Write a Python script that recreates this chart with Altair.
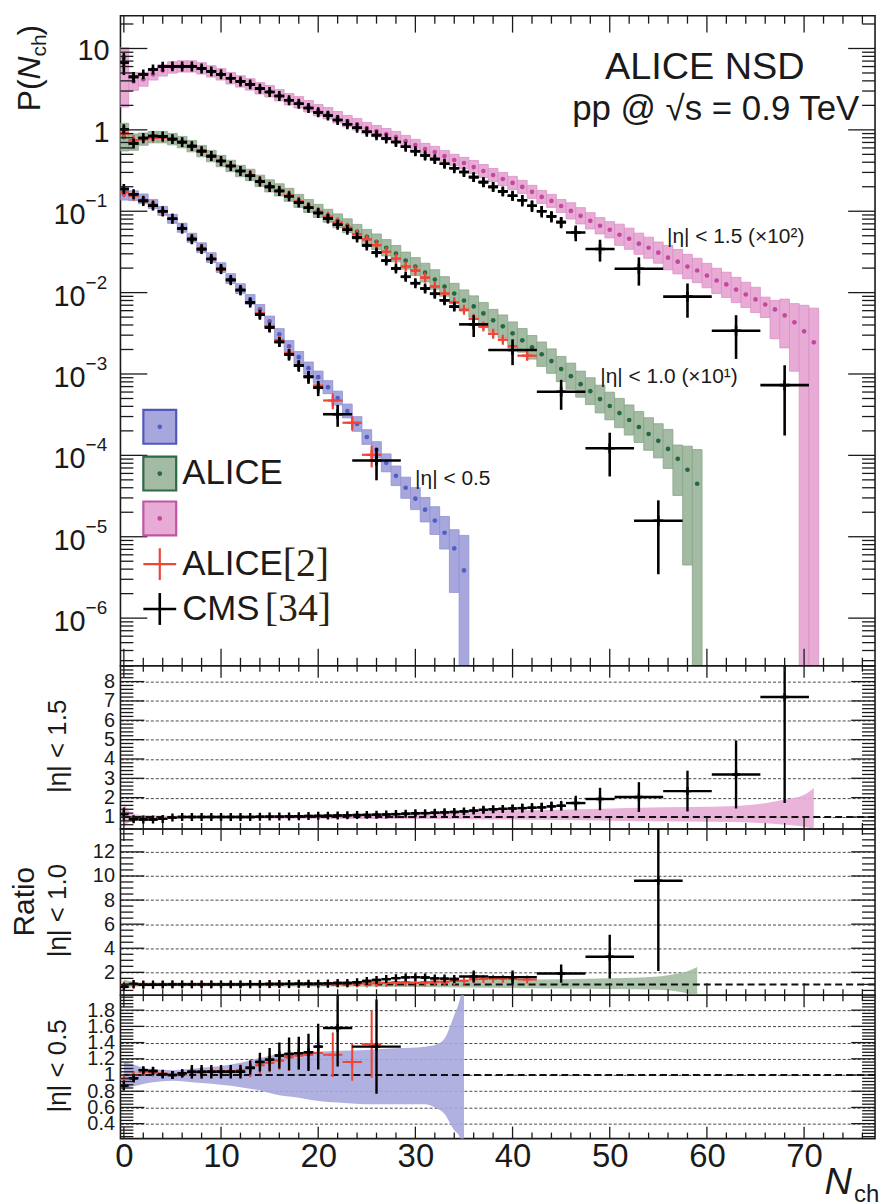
import numpy as np
import pandas as pd
import altair as alt

FONT = "Liberation Sans"
SERIF = "Liberation Serif"
INK = "#1a1a1a"

# ---------------------------------------------------------------------------
# ALICE NSD, pp at sqrt(s) = 0.9 TeV : P(N_ch) for N_ch = 0, 1, 2, ...
# (|eta| < 1.0 is multiplied by 10, |eta| < 1.5 by 100)
alice05 = [0.163, 0.155, 0.142, 0.123, 0.101, 0.0807, 0.0627, 0.0472, 0.0356, 0.0269,
           0.0203, 0.0149, 0.0112, 0.00824, 0.00621, 0.00443, 0.00307, 0.00219, 0.00161, 0.00118,
           9.14e-4, 6.89e-4, 5.06e-4, 3.51e-4, 2.43e-4, 1.68e-4, 1.17e-4, 8.09e-5, 5.61e-5, 4.00e-5,
           2.94e-5, 2.15e-5, 1.58e-5, 1.12e-5, 7.18e-6, 3.86e-6]
alice10 = [0.814, 0.707, 0.769, 0.814, 0.814, 0.769, 0.707, 0.631, 0.548, 0.476,
           0.414, 0.360, 0.312, 0.279, 0.236, 0.205, 0.183, 0.159, 0.134, 0.116,
           0.101, 0.0879, 0.0763, 0.0663, 0.0560, 0.0486, 0.0422, 0.0356, 0.0301, 0.0247,
           0.0209, 0.0176, 0.0145, 0.0119, 0.00975, 0.00800, 0.00676, 0.00555, 0.00456, 0.00385,
           0.00316, 0.00259, 0.00213, 0.00175, 0.00144, 0.00115, 9.40e-4, 7.50e-4, 6.15e-4, 4.92e-4,
           4.04e-4, 3.31e-4, 2.72e-4, 2.23e-4, 1.83e-4, 1.51e-4, 1.20e-4, 9.06e-5, 6.65e-5, 4.48e-5]
alice15 = [7.76, 3.94, 4.18, 4.81, 5.38, 5.85, 6.02, 6.02, 5.69, 5.23,
           4.81, 4.30, 3.94, 3.62, 3.24, 2.98, 2.66, 2.38, 2.18, 1.95,
           1.74, 1.60, 1.43, 1.28, 1.17, 1.05, 0.964, 0.885, 0.814, 0.727,
           0.650, 0.581, 0.533, 0.476, 0.426, 0.391, 0.349, 0.312, 0.279, 0.249,
           0.223, 0.199, 0.173, 0.150, 0.134, 0.116, 0.101, 0.0879, 0.0763, 0.0663,
           0.0592, 0.0514, 0.0459, 0.0399, 0.0356, 0.0310, 0.0269, 0.0240, 0.0209, 0.0187,
           0.0162, 0.0141, 0.0126, 0.0109, 0.00948, 0.00824, 0.00715, 0.00621, 0.00525, 0.00431,
           0.00334, 0.00245]

# total uncertainty boxes, in decades above / below the central value
alice05_up = [0.075, 0.06, 0.06, 0.055, 0.055, 0.055, 0.055, 0.055, 0.06, 0.06,
              0.06, 0.06, 0.06, 0.06, 0.06, 0.065, 0.07, 0.07, 0.07, 0.075,
              0.075, 0.08, 0.085, 0.085, 0.09, 0.09, 0.10, 0.11, 0.12, 0.13,
              0.135, 0.15, 0.17, 0.20, 0.23, 0.43]
alice05_dn = [0.075, 0.06, 0.06, 0.055, 0.055, 0.055, 0.055, 0.055, 0.06, 0.06,
              0.06, 0.06, 0.06, 0.06, 0.06, 0.065, 0.07, 0.07, 0.07, 0.075,
              0.075, 0.08, 0.085, 0.085, 0.09, 0.09, 0.10, 0.11, 0.12, 0.13,
              0.135, 0.15, 0.17, 0.20, 0.54, 9.0]
alice10_up = [0.17, 0.10, 0.075, 0.07, 0.07, 0.07, 0.07, 0.07, 0.07, 0.07,
              0.07, 0.07, 0.07, 0.07, 0.07, 0.075, 0.075, 0.08, 0.08, 0.08,
              0.08, 0.08, 0.085, 0.085, 0.09, 0.09, 0.095, 0.10, 0.10, 0.105,
              0.11, 0.115, 0.12, 0.12, 0.125, 0.13, 0.13, 0.135, 0.135, 0.14,
              0.14, 0.145, 0.145, 0.15, 0.15, 0.155, 0.16, 0.16, 0.165, 0.17,
              0.17, 0.18, 0.185, 0.19, 0.20, 0.21, 0.24, 0.17, 0.29, 0.42]
alice10_dn = [0.17, 0.10, 0.075, 0.07, 0.07, 0.07, 0.07, 0.07, 0.07, 0.07,
              0.07, 0.07, 0.07, 0.07, 0.07, 0.075, 0.075, 0.08, 0.08, 0.08,
              0.08, 0.08, 0.085, 0.085, 0.09, 0.09, 0.095, 0.10, 0.10, 0.105,
              0.11, 0.115, 0.12, 0.12, 0.125, 0.13, 0.13, 0.135, 0.135, 0.14,
              0.14, 0.145, 0.145, 0.15, 0.15, 0.155, 0.16, 0.16, 0.165, 0.17,
              0.17, 0.18, 0.185, 0.19, 0.20, 0.21, 0.24, 0.45, 1.17, 9.0]
alice15_up = [0.12, 0.11, 0.085, 0.07, 0.07, 0.07, 0.07, 0.07, 0.07, 0.07,
              0.07, 0.07, 0.07, 0.07, 0.07, 0.07, 0.07, 0.07, 0.07, 0.07,
              0.07, 0.07, 0.07, 0.07, 0.07, 0.07, 0.07, 0.07, 0.07, 0.07,
              0.07, 0.07, 0.07, 0.07, 0.07, 0.07, 0.08, 0.08, 0.08, 0.08,
              0.08, 0.08, 0.08, 0.08, 0.08, 0.08, 0.10, 0.10, 0.10, 0.10,
              0.10, 0.13, 0.13, 0.13, 0.13, 0.13, 0.15, 0.15, 0.15, 0.15,
              0.15, 0.15, 0.15, 0.15, 0.15, 0.15, 0.09, 0.11, 0.20, 0.23,
              0.32, 0.42]
alice15_dn = [0.61, 0.11, 0.085, 0.07, 0.07, 0.07, 0.07, 0.07, 0.07, 0.07,
              0.07, 0.07, 0.07, 0.07, 0.07, 0.07, 0.07, 0.07, 0.07, 0.07,
              0.07, 0.07, 0.07, 0.07, 0.07, 0.07, 0.07, 0.07, 0.07, 0.07,
              0.07, 0.07, 0.07, 0.07, 0.07, 0.07, 0.08, 0.08, 0.08, 0.08,
              0.08, 0.08, 0.08, 0.08, 0.08, 0.08, 0.10, 0.10, 0.10, 0.10,
              0.10, 0.13, 0.13, 0.13, 0.13, 0.13, 0.15, 0.15, 0.15, 0.15,
              0.15, 0.16, 0.16, 0.16, 0.16, 0.16, 0.16, 0.36, 0.40, 0.60,
              9.0, 9.0]

# relative uncertainty of ALICE NSD drawn in the ratio panels
band15_n = [0, 1, 2, 5, 10, 20, 30, 35, 45, 53, 63, 68, 70, 71]
band15_lo = [0.50, 0.85, 0.90, 0.93, 0.93, 0.91, 0.89, 0.88, 0.84, 0.78, 0.74, 0.60, 0.50, 0.38]
band15_hi = [1.70, 1.15, 1.10, 1.07, 1.07, 1.10, 1.20, 1.30, 1.38, 1.48, 1.57, 1.90, 2.15, 2.50]
band10_n = [0, 1, 2, 5, 10, 20, 30, 40, 50, 55, 57, 58, 59]
band10_lo = [0.60, 0.80, 0.85, 0.85, 0.85, 0.82, 0.78, 0.70, 0.62, 0.55, 0.40, 0.25, 0.10]
band10_hi = [1.40, 1.20, 1.15, 1.15, 1.15, 1.20, 1.28, 1.38, 1.50, 1.65, 1.90, 2.10, 2.45]
band05_n = [0, 1, 2, 3, 5, 8, 10, 12, 14, 16, 18, 20, 22, 25, 28, 31, 32, 33, 34, 34.5, 35]
band05_lo = [0.84, 0.86, 0.89, 0.91, 0.93, 0.90, 0.88, 0.85, 0.81, 0.75, 0.72, 0.68, 0.66, 0.64,
             0.64, 0.64, 0.60, 0.52, 0.32, 0.25, 0.0]
band05_hi = [1.16, 1.13, 1.09, 1.07, 1.06, 1.09, 1.11, 1.15, 1.21, 1.26, 1.28, 1.29, 1.30, 1.31,
             1.33, 1.35, 1.37, 1.45, 1.74, 1.90, 2.20]

# CMS [34] and ALICE [2]: bin centre, bin half width, ratio ALICE NSD / data, relative error
cms15_n = list(range(46)) + [46.5, 49, 53, 58, 63, 68]
cms15_hw = [0.5] * 46 + [1.0, 1.5, 2.5, 2.5, 2.5, 2.5]
cms15_r = [1.15, 0.88, 0.87, 0.87, 0.90, 0.97, 1.00, 1.00, 1.00, 1.00,
           1.00, 1.00, 1.00, 1.00, 1.01, 1.02, 1.02, 1.03, 1.04, 1.05,
           1.06, 1.07, 1.08, 1.09, 1.10, 1.11, 1.12, 1.13, 1.15, 1.17,
           1.19, 1.20, 1.22, 1.24, 1.26, 1.29, 1.33, 1.37, 1.40, 1.42,
           1.44, 1.46, 1.48, 1.50, 1.55, 1.58,
           1.72, 1.93, 2.03, 2.34, 3.20, 7.20]
cms15_e = [0.30, 0.15, 0.06, 0.06, 0.06, 0.06, 0.06, 0.06, 0.06, 0.06,
           0.07, 0.07, 0.07, 0.07, 0.07, 0.07, 0.07, 0.07, 0.07, 0.07,
           0.09, 0.09, 0.09, 0.09, 0.09, 0.09, 0.09, 0.09, 0.09, 0.09,
           0.11, 0.11, 0.11, 0.11, 0.11, 0.11, 0.13, 0.13, 0.13, 0.13,
           0.13, 0.16, 0.16, 0.16, 0.16, 0.16,
           0.22, 0.30, 0.38, 0.45, 0.55, 0.76]

cms10_n = list(range(35)) + [36, 40, 45, 50, 55]
cms10_hw = [0.5] * 35 + [1.5, 2.5, 2.5, 2.5, 2.5]
cms10_r = [0.80, 1.04, 0.97, 0.97, 0.98, 1.00, 1.00, 1.00, 1.00, 1.00,
           1.00, 1.00, 1.00, 1.02, 1.02, 1.03, 1.03, 1.04, 1.05, 1.05,
           1.06, 1.08, 1.12, 1.12, 1.18, 1.28, 1.36, 1.44, 1.52, 1.58,
           1.60, 1.57, 1.50, 1.48, 1.45,
           1.66, 1.60, 1.90, 3.30, 9.60]
cms10_e = [0.10, 0.05, 0.05, 0.05, 0.05, 0.05, 0.05, 0.05, 0.05, 0.05,
           0.05, 0.06, 0.06, 0.06, 0.06, 0.06, 0.06, 0.06, 0.06, 0.06,
           0.06, 0.08, 0.08, 0.08, 0.08, 0.08, 0.08, 0.08, 0.08, 0.08,
           0.08, 0.10, 0.10, 0.10, 0.10,
           0.30, 0.35, 0.40, 0.55, 0.78]

ali10_n = list(range(41)) + [41.5]
ali10_hw = [0.5] * 41 + [1.0]
ali10_r = [0.90, 0.95, 1.00, 1.02, 1.01, 1.00, 1.00, 1.00, 1.00, 1.00,
           1.00, 1.00, 1.00, 1.00, 1.01, 1.01, 1.02, 1.02, 1.02, 1.03,
           1.03, 1.03, 1.05, 1.06, 1.07, 1.08, 1.10, 1.12, 1.15, 1.18,
           1.12, 1.15, 1.22, 1.22, 1.28, 1.30, 1.42, 1.45, 1.46, 1.46,
           1.45, 1.40]
ali10_e = [0.05, 0.04, 0.04, 0.04, 0.04, 0.04, 0.04, 0.04, 0.04, 0.04,
           0.04, 0.04, 0.04, 0.04, 0.04, 0.04, 0.04, 0.04, 0.04, 0.04,
           0.04, 0.06, 0.06, 0.06, 0.06, 0.06, 0.06, 0.06, 0.06, 0.06,
           0.06, 0.09, 0.09, 0.09, 0.09, 0.09, 0.09, 0.09, 0.09, 0.09,
           0.09, 0.12]

cms05_n = list(range(21)) + [22, 26]
cms05_hw = [0.5] * 21 + [1.5, 2.5]
cms05_r = [0.87, 0.96, 1.06, 1.05, 1.01, 1.00, 1.02, 1.04, 1.04, 1.04,
           1.04, 1.04, 1.04, 1.09, 1.16, 1.19, 1.24, 1.26, 1.27, 1.28,
           1.35, 1.58, 1.35]
cms05_e = [0.07, 0.05, 0.04, 0.05, 0.05, 0.05, 0.05, 0.08, 0.08, 0.08,
           0.08, 0.08, 0.08, 0.08, 0.10, 0.12, 0.13, 0.16, 0.16, 0.18,
           0.21, 0.30, 0.43]

ali05_n = list(range(21)) + [21.5, 23.5, 25.5]
ali05_hw = [0.5] * 21 + [1.0, 1.0, 1.0]
ali05_r = [0.95, 1.00, 1.04, 1.03, 1.02, 1.00, 1.02, 1.03, 1.03, 1.04,
           1.05, 1.05, 1.06, 1.08, 1.12, 1.15, 1.18, 1.22, 1.24, 1.25,
           1.27, 1.25, 1.16, 1.38]
ali05_e = [0.06, 0.04, 0.04, 0.04, 0.04, 0.04, 0.04, 0.07, 0.07, 0.07,
           0.07, 0.07, 0.07, 0.10, 0.10, 0.10, 0.10, 0.14, 0.14, 0.14,
           0.14, 0.22, 0.20, 0.30]

# ---------------------------------------------------------------------------
# colours
BLUE_BAND, BLUE_EDGE, BLUE_DOT, BLUE_BOX = "#a7a7de", "#9090d2", "#4f5fc2", "#5058b8"
GREEN_BAND, GREEN_EDGE, GREEN_DOT, GREEN_BOX = "#a2bba2", "#88a588", "#23693f", "#2c6a45"
PINK_BAND, PINK_EDGE, PINK_DOT, PINK_BOX = "#e8abd5", "#da90c6", "#c5489f", "#c055a5"
RED = "#ef4436"

# panel geometry
W = 758
H_MAIN, H_R15, H_R10, H_R05 = 653, 164, 167, 144
xs = alt.Scale(domain=[-0.35, 77.3], nice=False, zero=False)
ys_main = alt.Scale(type="log", domain=[2.6e-7, 25.3], nice=False)
ys_r15 = alt.Scale(domain=[0.38, 8.82], nice=False, zero=False)
ys_r10 = alt.Scale(domain=[0.1, 13.9], nice=False, zero=False)
ys_r05 = alt.Scale(domain=[0.216, 1.984], nice=False, zero=False)

X_MAJOR = [0, 10, 20, 30, 40, 50, 60, 70]
X_MINOR = [t for t in range(0, 78, 2) if t % 10 != 0]
PLUS = "M-1,0L1,0M0,-1L0,1"


def alice_frame(p, up, dn):
    p = np.asarray(p, float)
    n = np.arange(len(p))
    return pd.DataFrame({"N": n, "x1": n - 0.5, "x2": n + 0.5, "v": p,
                         "lo": p * 10 ** (-np.asarray(dn, float)),
                         "hi": p * 10 ** np.asarray(up, float)})


def measurement(alice_p, n, hw, r, e):
    n = np.asarray(n, float)
    hw = np.asarray(hw, float)
    r = np.asarray(r, float)
    e = np.asarray(e, float)
    ref = 10 ** np.interp(n, np.arange(len(alice_p)), np.log10(alice_p))
    p = ref / r
    base = {"N": n, "x1": n - hw, "x2": n + hw}
    main = pd.DataFrame({**base, "v": p, "lo": p * (1 - e), "hi": p * (1 + e)})
    ratio = pd.DataFrame({**base, "v": r, "lo": r * (1 - e), "hi": r * (1 + e)})
    return main, ratio


def crosses(df, ys, xaxis, yaxis, color, width, size):
    base = alt.Chart(df)
    xm = alt.X("N:Q", scale=xs, axis=xaxis)
    return [
        base.mark_rule(color=color, strokeWidth=width, clip=True).encode(
            x=alt.X("x1:Q", scale=xs, axis=xaxis), x2="x2:Q",
            y=alt.Y("v:Q", scale=ys, axis=yaxis)),
        base.mark_rule(color=color, strokeWidth=width, clip=True).encode(
            x=xm, y=alt.Y("lo:Q", scale=ys, axis=yaxis), y2="hi:Q"),
        base.mark_point(shape=PLUS, size=size, filled=False, stroke=color,
                        strokeWidth=width, opacity=1, clip=True).encode(
            x=xm, y=alt.Y("v:Q", scale=ys, axis=yaxis)),
    ]


def frame_ticks(h, ys, xaxis, yaxis, y_major, y_minor, xl, yl):
    out = []
    for vals, L in ((X_MAJOR, xl[0]), (X_MINOR, xl[1])):
        d = alt.Chart(pd.DataFrame({"t": vals}))
        xe = alt.X("t:Q", scale=xs, axis=xaxis)
        out.append(d.mark_rule(color=INK, strokeWidth=1.3).encode(
            x=xe, y=alt.value(0), y2=alt.value(L)))
        out.append(d.mark_rule(color=INK, strokeWidth=1.3).encode(
            x=xe, y=alt.value(h - L), y2=alt.value(h)))
    for vals, L in ((y_major, yl[0]), (y_minor, yl[1])):
        d = alt.Chart(pd.DataFrame({"t": vals}))
        ye = alt.Y("t:Q", scale=ys, axis=yaxis)
        out.append(d.mark_rule(color=INK, strokeWidth=1.3).encode(
            y=ye, x=alt.value(0), x2=alt.value(L)))
        out.append(d.mark_rule(color=INK, strokeWidth=1.3).encode(
            y=ye, x=alt.value(W - L), x2=alt.value(W)))
    return out


def text(s, x, y, size, align="left", baseline="middle", angle=0, font=FONT,
         color=INK, style="normal"):
    return alt.Chart(pd.DataFrame({"a": [0]})).mark_text(
        text=s, align=align, baseline=baseline, angle=angle, font=font,
        fontSize=size, color=color, fontStyle=style).encode(
        x=alt.value(x), y=alt.value(y))


# ---------------------------------------------------------------------------
a05 = alice_frame(alice05, alice05_up, alice05_dn)
a10 = alice_frame(alice10, alice10_up, alice10_dn)
a15 = alice_frame(alice15, alice15_up, alice15_dn)

cms05_main, cms05_ratio = measurement(alice05, cms05_n, cms05_hw, cms05_r, cms05_e)
cms10_main, cms10_ratio = measurement(alice10, cms10_n, cms10_hw, cms10_r, cms10_e)
cms15_main, cms15_ratio = measurement(alice15, cms15_n, cms15_hw, cms15_r, cms15_e)
ali05_main, ali05_ratio = measurement(alice05, ali05_n, ali05_hw, ali05_r, ali05_e)
ali10_main, ali10_ratio = measurement(alice10, ali10_n, ali10_hw, ali10_r, ali10_e)

# ---------------- main panel: P(N_ch)
layers = []
for df, band, edge in ((a05, BLUE_BAND, BLUE_EDGE), (a10, GREEN_BAND, GREEN_EDGE),
                       (a15, PINK_BAND, PINK_EDGE)):
    layers.append(alt.Chart(df).mark_rect(fill=band, stroke=edge, strokeWidth=0.8,
                                          clip=True).encode(
        x=alt.X("x1:Q", scale=xs, axis=None), x2="x2:Q",
        y=alt.Y("lo:Q", scale=ys_main, axis=None), y2="hi:Q"))
for df, dot in ((a05, BLUE_DOT), (a10, GREEN_DOT), (a15, PINK_DOT)):
    layers.append(alt.Chart(df).mark_circle(size=22, color=dot, opacity=1, clip=True).encode(
        x=alt.X("N:Q", scale=xs, axis=None), y=alt.Y("v:Q", scale=ys_main, axis=None)))
for df in (ali05_main, ali10_main):
    layers += crosses(df, ys_main, None, None, RED, 2.2, 100)
for df in (cms05_main, cms10_main, cms15_main):
    layers += crosses(df, ys_main, None, None, "#000000", 2.6, 100)

main_major = [10.0 ** k for k in range(-6, 2)]
main_minor = [m * 10.0 ** k for k in range(-7, 2) for m in range(2, 10)
              if 2.6e-7 <= m * 10.0 ** k <= 25.3]
layers += frame_ticks(H_MAIN, ys_main, None, None, main_major, main_minor, (17, 8), (27, 13))

# y labels 10, 1, 10^-1 ... 10^-6
lab_top = pd.DataFrame({"v": [10.0, 1.0], "t": ["10", "1"]})
lab_pow = pd.DataFrame({"v": [1e-1, 1e-2, 1e-3, 1e-4, 1e-5, 1e-6],
                        "e": ["\u22121", "\u22122", "\u22123", "\u22124", "\u22125", "\u22126"]})
layers.append(alt.Chart(lab_top).mark_text(align="right", baseline="middle", font=FONT,
                                           fontSize=29, color=INK, dy=3).encode(
    y=alt.Y("v:Q", scale=ys_main, axis=None), x=alt.value(-11), text="t:N"))
layers.append(alt.Chart(lab_pow).mark_text(align="right", baseline="middle", font=FONT,
                                           fontSize=29, color=INK, dy=4, text="10").encode(
    y=alt.Y("v:Q", scale=ys_main, axis=None), x=alt.value(-35)))
layers.append(alt.Chart(lab_pow).mark_text(align="left", baseline="middle", font=FONT,
                                           fontSize=19, color=INK, dy=-10).encode(
    y=alt.Y("v:Q", scale=ys_main, axis=None), x=alt.value(-35), text="e:N"))

# axis title P(N_ch)
layers += [
    text("P(", -81, 96, 32, angle=270, baseline="alphabetic"),
    text("N", -81, 64, 32, angle=270, baseline="alphabetic", style="italic"),
    text("ch", -75, 41, 21, angle=270, baseline="alphabetic"),
    text(")", -81, 20, 32, angle=270, baseline="alphabetic"),
]

# headline and series labels
layers += [
    text("ALICE NSD", 587, 53, 38, align="center"),
    text("pp @ \u221As = 0.9 TeV", 598, 94, 35, align="center"),
    text("|\u03b7| < 1.5 (\u00d710\u00b2)", 549, 222, 21),
    text("|\u03b7| < 1.0 (\u00d710\u00b9)", 482, 363, 21),
    text("|\u03b7| < 0.5", 296, 465, 21),
]

# legend
one = pd.DataFrame({"a": [0]})
for y1, fill, edge, dot in ((396, BLUE_BAND, BLUE_BOX, BLUE_DOT),
                            (443, GREEN_BAND, GREEN_BOX, GREEN_DOT),
                            (488, PINK_BAND, PINK_BOX, PINK_DOT)):
    layers.append(alt.Chart(one).mark_rect(fill=fill, stroke=edge, strokeWidth=2.2).encode(
        x=alt.value(23), x2=alt.value(56), y=alt.value(y1), y2=alt.value(y1 + 34)))
    layers.append(alt.Chart(one).mark_circle(size=22, color=dot, opacity=1).encode(
        x=alt.value(39.5), y=alt.value(y1 + 17)))
for yc, col, w in ((551, RED, 2.2), (596, "#000000", 2.6)):
    layers.append(alt.Chart(one).mark_rule(color=col, strokeWidth=w).encode(
        x=alt.value(23), x2=alt.value(56), y=alt.value(yc)))
    layers.append(alt.Chart(one).mark_rule(color=col, strokeWidth=w).encode(
        x=alt.value(39.5), y=alt.value(yc - 16), y2=alt.value(yc + 16)))
layers += [
    text("ALICE", 62, 459, 35),
    text("ALICE", 62, 551, 35),
    text("[2]", 163, 551, 40, font=SERIF, color="#2e1f10"),
    text("CMS", 62, 596, 35),
    text("[34]", 145, 596, 40, font=SERIF, color="#2e1f10"),
]

main = alt.layer(*layers).properties(width=W, height=H_MAIN)


# ---------------- ratio panels
def ratio_panel(h, ys, band_n, band_lo, band_hi, band_color, meas, y_vals, y_major, y_minor,
                xaxis, titles):
    yaxis = alt.Axis(values=y_vals, grid=True, gridDash=[3, 2], gridColor="#333333",
                     gridWidth=0.9, ticks=False, domain=False, labelFont=FONT,
                     labelFontSize=20, labelColor=INK, labelPadding=6, labelOverlap=False,
                     labelFlush=False, format="~g", title=None)
    band = pd.DataFrame({"N": band_n, "lo": band_lo, "hi": band_hi})
    lay = [alt.Chart(band).mark_area(interpolate="monotone", color=band_color, opacity=0.9,
                                     clip=True).encode(
        x=alt.X("N:Q", scale=xs, axis=xaxis),
        y=alt.Y("lo:Q", scale=ys, axis=yaxis), y2="hi:Q")]
    lay.append(alt.Chart(pd.DataFrame({"one": [1.0]})).mark_rule(
        color="#111111", strokeWidth=2, strokeDash=[7, 4]).encode(
        y=alt.Y("one:Q", scale=ys, axis=yaxis)))
    for df, col, w in meas:
        lay += crosses(df, ys, xaxis, yaxis, col, w, 64)
    lay += frame_ticks(h, ys, xaxis, yaxis, y_major, y_minor, (12, 6), (24, 13))
    for s, x, y, size in titles:
        lay.append(text(s, x, y, size, align="center", angle=270))
    return lay


r15_minor = [round(v, 2) for v in np.arange(0.4, 8.81, 0.2) if abs(v - round(v)) > 1e-6]
r15 = alt.layer(*ratio_panel(
    H_R15, ys_r15, band15_n, band15_lo, band15_hi, PINK_BAND,
    [(cms15_ratio, "#000000", 2.4)],
    [1, 2, 3, 4, 5, 6, 7, 8], [1, 2, 3, 4, 5, 6, 7, 8], r15_minor, None,
    [("|\u03b7| < 1.5", -63, 81, 26)])).properties(width=W, height=H_R15)

r10_minor = [v for v in np.arange(0.5, 13.9, 0.5) if v % 2 != 0]
r10 = alt.layer(*ratio_panel(
    H_R10, ys_r10, band10_n, band10_lo, band10_hi, GREEN_BAND,
    [(ali10_ratio, RED, 2.0), (cms10_ratio, "#000000", 2.4)],
    [2, 4, 6, 8, 10, 12], [2, 4, 6, 8, 10, 12], r10_minor, None,
    [("Ratio", -96, 73, 30), ("|\u03b7| < 1.0", -63, 82, 26)])).properties(width=W, height=H_R10)

xaxis_bottom = alt.Axis(values=X_MAJOR, labelFont=FONT, labelFontSize=33, labelColor=INK,
                        labelPadding=2, ticks=False, domain=False, grid=False,
                        labelFlush=False, labelOverlap=False, title=None)
r05_major = [0.4, 0.6, 0.8, 1.0, 1.2, 1.4, 1.6, 1.8]
r05_minor = [round(v, 2) for v in np.arange(0.24, 1.98, 0.04)
             if min(abs(v - m) for m in r05_major) > 1e-6]
r05_layers = ratio_panel(
    H_R05, ys_r05, band05_n, band05_lo, band05_hi, BLUE_BAND,
    [(ali05_ratio, RED, 2.0), (cms05_ratio, "#000000", 2.4)],
    r05_major, r05_major, r05_minor, xaxis_bottom,
    [("|\u03b7| < 0.5", -63, 71, 26)])
r05_layers += [
    text("N", 721, 189, 38, align="center", style="italic"),
    text("ch", 737, 208, 24, baseline="alphabetic"),
]
r05 = alt.layer(*r05_layers).properties(width=W, height=H_R05)

chart = alt.vconcat(main, r15, r10, r05, spacing=0, bounds="flush").properties(
    padding={"left": 9, "top": 11, "right": 0, "bottom": 0}
).configure_view(stroke=INK, strokeWidth=1.6)

chart.save("out.html", embed_options={"renderer": "svg", "actions": False})
